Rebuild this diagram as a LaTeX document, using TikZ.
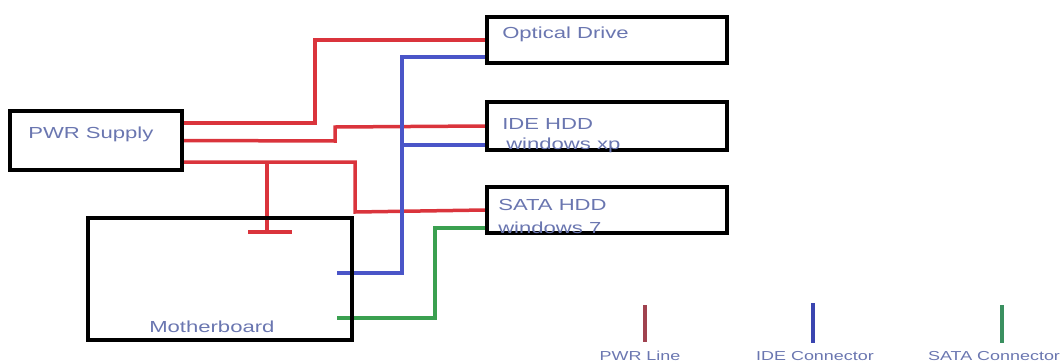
\documentclass[tikz,border=0pt]{standalone}
\usepackage{fontspec}
\setmainfont{Liberation Sans}
\usetikzlibrary{calc,backgrounds}
\definecolor{pwrred}{HTML}{DA343C}
\definecolor{idebl}{HTML}{4A55C8}
\definecolor{satagr}{HTML}{3AA050}
\definecolor{lgred}{HTML}{A0424F}
\definecolor{lgbl}{HTML}{3A45B0}
\definecolor{lggr}{HTML}{3A9060}
\definecolor{txt}{HTML}{6A76B0}
\tikzset{
  box/.style={draw=black, line width=4pt, inner sep=0pt},
  lbl/.style={text=txt, font=\fontsize{16}{18}\selectfont, xscale=1.38, anchor=west, inner sep=0pt},
  lglbl/.style={text=txt, font=\fontsize{13}{15}\selectfont, xscale=1.38, anchor=center, inner sep=0pt},
  pw/.style={draw=pwrred, line width=3.5pt},
  ide/.style={draw=idebl, line width=3.5pt},
  sata/.style={draw=satagr, line width=3.5pt},
  lgbar/.style={line width=4.5pt},
}
\begin{document}
\begin{tikzpicture}[x=1pt,y=-1pt]
\useasboundingbox (0,0) rectangle (1060,362);
% boxes
\node[box, minimum width=172pt, minimum height=59pt] (pwr) at (96,140.5) {};
\node[box, minimum width=264pt, minimum height=122pt] (mb) at (220,279) {};
\node[box, minimum width=240pt, minimum height=46pt] (od) at (607,40) {};
\node[box, minimum width=240pt, minimum height=48pt] (ideb) at (607,126) {};
\node[box, minimum width=240pt, minimum height=46pt] (satab) at (607,210) {};
% connection points
\coordinate (p1) at ([yshift=17.5pt]pwr.east);
\coordinate (p2) at (pwr.east);
\coordinate (p3) at ([yshift=-21.5pt]pwr.east);
\coordinate (odI) at ([yshift=-17pt]od.west);
\coordinate (ideI) at ([yshift=-19pt]ideb.west);
\coordinate (sataS) at ([yshift=-18pt]satab.west);
\coordinate (mbI) at ([xshift=-17pt,yshift=6pt]mb.east);
\coordinate (mbS) at ([xshift=-17pt,yshift=-39pt]mb.east);
\coordinate (tee) at (267,232);
\begin{scope}[on background layer]
% power lines
\draw[pw] (p1) -- (315,123) -- (315,40) -- (od.west);
\draw[pw] (p2) -- (335,141) -- (335,127) -- (ideb.west);
\draw[pw] (p3) -- (355,162) -- (355,212) -- (satab.west);
\draw[pw] (267,162) -- (tee);
\draw[pw] ([xshift=-19pt]tee) -- ([xshift=25pt]tee);
% IDE lines
\draw[ide] (odI) -- (402,57) -- (402,273) -- (mbI);
\draw[ide] (402,145) -- (ideI);
% SATA line
\draw[sata] (sataS) -- (435,228) -- (435,318) -- (mbS);
\end{scope}
% labels
\node[lbl] (tpwr) at (28,134) {PWR Supply};
\node[lbl] (tmb) at (149,327) {Motherboard};
\node[lbl] (tod) at (502,34) {Optical Drive};
\node[lbl] (tide1) at (502,124) {IDE HDD};
\node[lbl] (tide2) at (506,145) { windows xp};
\node[lbl] (tsata1) at (498,205) {SATA HDD};
\node[lbl] (tsata2) at (498,228) {windows 7};
% legend
\draw[lgbar, draw=lgred] (645,305) coordinate (lg1a) -- (645,342) coordinate (lg1b);
\draw[lgbar, draw=lgbl] (813,303) coordinate (lg2a) -- (813,343) coordinate (lg2b);
\draw[lgbar, draw=lggr] (1002,305) coordinate (lg3a) -- (1002,343) coordinate (lg3b);
\node[lglbl] (l1) at (640,356) {PWR Line};
\node[lglbl] (l2) at (815,356) {IDE Connector};
\node[lglbl] (l3) at (994,356) {SATA Connector};
\end{tikzpicture}
\end{document}
